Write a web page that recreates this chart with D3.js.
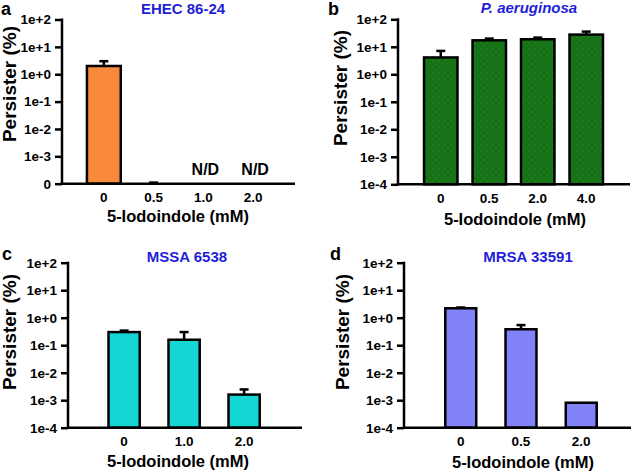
<!DOCTYPE html>
<html><head><meta charset="utf-8">
<script src="https://cdn.jsdelivr.net/npm/d3@7"></script>
<style>
html,body{margin:0;padding:0;background:#fff;}
text{font-family:"Liberation Sans",Arial,sans-serif;font-weight:bold;}
</style></head>
<body>
<svg id="chart" width="638" height="471"></svg>
<script>
// ---- data ----
const aCats = ["0", "0.5", "1.0", "2.0"];
const aVals = [2.0, 1e-4, null, null];
const aErrs = [3.0, 1.1e-4, null, null];
const aNote = [null, null, "N/D", "N/D"];

const bCats = ["0", "0.5", "2.0", "4.0"];
const bVals = [4.1, 17.2, 18.8, 27.8];
const bErrs = [7.1, 19.9, 21.6, 35.7];

const cCats = ["0", "1.0", "2.0"];
const cVals = [0.30, 0.158, 0.0016];
const cErrs = [0.34, 0.30, 0.00246];

const dCats = ["0", "0.5", "2.0"];
const dVals = [2.2, 0.38, 0.00081];
const dErrs = [2.35, 0.54, null];

const yTicks = [1e-4, 1e-3, 1e-2, 1e-1, 1e0, 1e1, 1e2];
const yTickLabels = ["1e-4", "1e-3", "1e-2", "1e-1", "1e+0", "1e+1", "1e+2"];
const aYTickLabels = ["0", "1e-3", "1e-2", "1e-1", "1e+0", "1e+1", "1e+2"];

const titles = ["EHEC 86-24", "P. aeruginosa", "MSSA 6538", "MRSA 33591"];
const letters = ["a", "b", "c", "d"];
const xTitle = "5-Iodoindole (mM)";
const yTitle = "Persister (%)";

// ---- layout ----
const panels = [
  {cats: aCats, vals: aVals, errs: aErrs, notes: aNote, tl: aYTickLabels, fill: "#f98a3c",
   ax: 62, yTop: 19.5, yBot: 183.7, xr: [71, 286], xEnd: 295, pad: 0.32,
   title: titles[0], tx: 183, ty: 13.5, italic: false, letter: letters[0], lx: 1, ly: 15,
   ytx: 10, yty: 84, xtx: 178, xty: 222},
  {cats: bCats, vals: bVals, errs: bErrs, notes: null, tl: yTickLabels, fill: "url(#dots)",
   ax: 398, yTop: 19.3, yBot: 184.3, xr: [409, 618], xEnd: 630, pad: 0.31,
   title: titles[1], tx: 529, ty: 13, italic: true, letter: letters[1], lx: 328, ly: 15,
   ytx: 341, yty: 88, xtx: 515, xty: 225},
  {cats: cCats, vals: cVals, errs: cErrs, notes: null, tl: yTickLabels, fill: "#14d6d2",
   ax: 68, yTop: 262.7, yBot: 427.7, xr: [79.7, 288.5], xEnd: 302, pad: 0.48,
   title: titles[2], tx: 187, ty: 262, italic: false, letter: letters[2], lx: 2, ly: 260,
   ytx: 10, yty: 332, xtx: 178, xty: 467},
  {cats: dCats, vals: dVals, errs: dErrs, notes: null, tl: yTickLabels, fill: "#8282f8",
   ax: 404, yTop: 262.7, yBot: 427.7, xr: [416, 626], xEnd: 631, pad: 0.486,
   title: titles[3], tx: 528, ty: 262, italic: false, letter: letters[3], lx: 330, ly: 260,
   ytx: 343, yty: 332, xtx: 523, xty: 468}
];

const svg = d3.select("#chart");
const defs = svg.append("defs");
const pat = defs.append("pattern").attr("id", "dots").attr("patternUnits", "userSpaceOnUse")
  .attr("width", 6).attr("height", 6);
pat.append("rect").attr("width", 6).attr("height", 6).attr("fill", "#167216");
pat.append("circle").attr("cx", 1).attr("cy", 1).attr("r", 0.5).attr("fill", "#4c9c3c");
pat.append("circle").attr("cx", 4).attr("cy", 4).attr("r", 0.5).attr("fill", "#3f8f35");

panels.forEach(p => {
  const g = svg.append("g");
  const y = d3.scaleLog().domain([1e-4, 1e2]).range([p.yBot, p.yTop]);
  const x = d3.scaleBand().domain(p.cats).range(p.xr).padding(p.pad);

  // bars
  p.cats.forEach((c, i) => {
    const v = p.vals[i];
    if (v == null) return;
    const e = p.errs[i];
    if (e != null) {
      const cx = x(c) + x.bandwidth() / 2;
      g.append("line").attr("x1", cx).attr("x2", cx).attr("y1", y(v)).attr("y2", y(e))
        .attr("stroke", "#000").attr("stroke-width", 2.5);
      g.append("line").attr("x1", cx - 4.5).attr("x2", cx + 4.5).attr("y1", y(e)).attr("y2", y(e))
        .attr("stroke", "#000").attr("stroke-width", 2.5);
    }
    if (v > 1e-4) {
      g.append("rect").attr("x", x(c)).attr("width", x.bandwidth())
        .attr("y", y(v)).attr("height", y(1e-4) - y(v))
        .attr("fill", p.fill).attr("stroke", "#000").attr("stroke-width", 2.5);
    }
  });

  // N/D notes
  if (p.notes) {
    p.cats.forEach((c, i) => {
      if (!p.notes[i]) return;
      g.append("text").attr("x", x(c) + x.bandwidth() / 2 + 2).attr("y", p.yBot - 8.5)
        .attr("text-anchor", "middle").attr("font-size", 16).text(p.notes[i]);
    });
  }

  // y axis
  const yAxis = d3.axisLeft(y).tickValues(yTicks).tickSize(7).tickPadding(4)
    .tickFormat((d, i) => p.tl[i]);
  const ya = g.append("g").attr("transform", `translate(${p.ax},0)`).call(yAxis);
  ya.attr("font-size", null).attr("font-family", null);
  ya.select(".domain").remove();
  ya.selectAll(".tick line").attr("stroke", "#000").attr("stroke-width", 2.5);
  ya.selectAll(".tick text").style("font-size", "13.5px").style("font-weight", "bold")
    .style("font-family", "'Liberation Sans', Arial, sans-serif").attr("fill", "#000");
  g.append("line").attr("x1", p.ax).attr("x2", p.ax).attr("y1", p.yTop - 1).attr("y2", p.yBot + 1.2)
    .attr("stroke", "#000").attr("stroke-width", 2.5);

  // x axis
  const xAxis = d3.axisBottom(x).tickSize(0).tickPadding(9);
  const xa = g.append("g").attr("transform", `translate(0,${p.yBot})`).call(xAxis);
  xa.attr("font-size", null).attr("font-family", null);
  xa.select(".domain").remove();
  xa.selectAll(".tick text").style("font-size", "13.5px").style("font-weight", "bold")
    .style("font-family", "'Liberation Sans', Arial, sans-serif").attr("fill", "#000");
  g.append("line").attr("x1", p.ax - 1.2).attr("x2", p.xEnd).attr("y1", p.yBot).attr("y2", p.yBot)
    .attr("stroke", "#000").attr("stroke-width", 2.5);

  // titles
  g.append("text").attr("x", p.tx).attr("y", p.ty).attr("text-anchor", "middle")
    .attr("font-size", 15).attr("fill", "#1f1fd8").attr("font-style", p.italic ? "italic" : "normal")
    .text(p.title);
  g.append("text").attr("x", p.lx).attr("y", p.ly).attr("font-size", 18).attr("fill", "#000").text(p.letter);
  g.append("text").attr("x", p.xtx).attr("y", p.xty).attr("text-anchor", "middle")
    .attr("font-size", 16.5).attr("fill", "#000").text(xTitle);
  g.append("text").attr("transform", `translate(${p.ytx + 6},${p.yty}) rotate(-90)`)
    .attr("text-anchor", "middle").attr("font-size", 19).attr("fill", "#000").text(yTitle);
});
</script>
</body></html>
